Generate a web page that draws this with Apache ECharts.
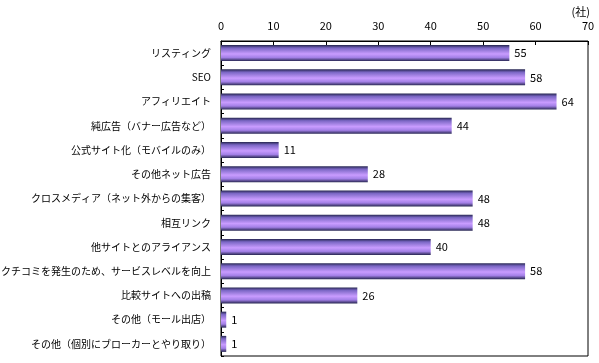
<!DOCTYPE html>
<html><head><meta charset="utf-8">
<script src="https://cdn.jsdelivr.net/npm/echarts@6/dist/echarts.min.js"></script>
<style>html,body{margin:0;padding:0;background:#fff}#c{width:599px;height:363px}</style>
</head><body><div id="c"></div>
<script>
var categories = ['リスティング','SEO','アフィリエイト','純広告（バナー広告など）','公式サイト化（モバイルのみ）','その他ネット広告','クロスメディア（ネット外からの集客）','相互リンク','他サイトとのアライアンス','クチコミを発生のため、サービスレベルを向上','比較サイトへの出稿','その他（モール出店）','その他（個別にブローカーとやり取り）'];
var values = [55,58,64,44,11,28,48,48,40,58,26,1,1];
var unitLabel = '(社)';
var xMin = 0, xMax = 70, xStep = 10;

var font = '"Noto Sans CJK JP", "Noto Sans", sans-serif';
var chart = echarts.init(document.getElementById('c'), null, {renderer:'canvas'});
chart.setOption({
  animation:false,
  title:{text:unitLabel, right:4, top:1, textStyle:{fontSize:11, fontWeight:'normal', color:'#000', fontFamily:font}},
  grid:{left:221, top:41, right:11, bottom:7, containLabel:false, outerBoundsMode:'none',
    show:true, borderColor:'#000', borderWidth:1, backgroundColor:'transparent'},
  xAxis:{type:'value', position:'top', min:xMin, max:xMax, interval:xStep,
    axisLine:{show:true, lineStyle:{color:'#000'}},
    axisTick:{show:true, inside:true, length:4, lineStyle:{color:'#000'}},
    splitLine:{show:false},
    axisLabel:{color:'#000', fontSize:11, fontFamily:font, margin:10}},
  yAxis:{type:'category', inverse:true, data:categories,
    axisLine:{show:true, lineStyle:{color:'#000'}},
    axisTick:{show:true, inside:true, length:3, lineStyle:{color:'#000'}},
    axisLabel:{color:'#000', fontSize:10, fontFamily:font, margin:10}},
  series:[{type:'bar', data:values, barWidth:16,
    itemStyle:{color:new echarts.graphic.LinearGradient(0,0,0,1,[
      {offset:0,color:'#262650'},{offset:0.18,color:'#7a66c4'},{offset:0.55,color:'#c99cff'},
      {offset:0.78,color:'#a27fe6'},{offset:1,color:'#262650'}])},
    label:{show:true, position:'right', distance:5, color:'#000', fontSize:11, fontFamily:font}}]
});
</script></body></html>
